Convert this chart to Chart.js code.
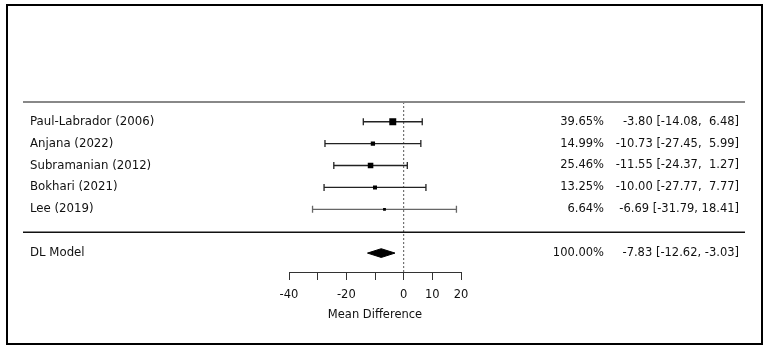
<!DOCTYPE html>
<html>
<head>
<meta charset="utf-8">
<script src="https://cdn.jsdelivr.net/npm/chart.js@4.4.0/dist/chart.umd.min.js"></script>
<style>
  body { margin: 0; background: #fff; }
  canvas { display: block; }
</style>
</head>
<body>
<canvas id="forestChart" width="768" height="350"></canvas>
<script>
// study data
var studies = ['Paul-Labrador (2006)', 'Anjana (2022)', 'Subramanian (2012)', 'Bokhari (2021)', 'Lee (2019)'];
var weights = [39.65, 14.99, 25.46, 13.25, 6.64];
var estimates = [-3.80, -10.73, -11.55, -10.00, -6.69];
var lowers = [-14.08, -27.45, -24.37, -27.77, -31.79];
var uppers = [6.48, 5.99, 1.27, 7.77, 18.41];

// pooled estimate
var modelLabel = 'DL Model';
var modelWeight = 100.00;
var modelEstimate = -7.83;
var modelLower = -12.62;
var modelUpper = -3.03;

var xTicks = [-40, -30, -20, -10, 0, 10, 20];
var xTickLabels = ['-40', '', '-20', '', '0', '10', '20'];

var modelRow = studies.length + 1;
var yMin = -5.318, yMax = 6.864;

function fmt(v, w) {
    return v.toFixed(2).padStart(w, ' ');
}

var datasets = [];

// squares, sized by weight
datasets.push({
    data: estimates.map(function (e, i) { return {x: e, y: i}; }),
    pointStyle: 'rect',
    pointRadius: weights.map(function (w) { return 0.78 * Math.sqrt(w); }),
    backgroundColor: '#000',
    borderColor: '#000',
    borderWidth: 0,
    showLine: false
});

// summary diamond
datasets.push({
    data: [
        {x: modelLower, y: modelRow},
        {x: modelEstimate, y: modelRow - 0.2},
        {x: modelUpper, y: modelRow},
        {x: modelEstimate, y: modelRow + 0.2},
        {x: modelLower, y: modelRow}
    ],
    showLine: true,
    fill: 'shape',
    backgroundColor: '#000',
    borderColor: '#000',
    borderWidth: 1,
    pointRadius: 0,
    tension: 0
});

// confidence intervals
studies.forEach(function (s, i) {
    var col = i === studies.length - 1 ? '#666' : '#222';
    datasets.push({
        data: [{x: lowers[i], y: i}, {x: uppers[i], y: i}],
        showLine: true,
        borderColor: col,
        borderWidth: 1.3,
        pointStyle: 'line',
        rotation: 90,
        pointRadius: 3.5,
        pointBorderWidth: 1.3,
        pointBorderColor: col,
        pointBackgroundColor: col
    });
});

// reference line at zero
datasets.push({
    data: [{x: 0, y: -0.9}, {x: 0, y: yMax}],
    showLine: true,
    borderColor: '#555',
    borderWidth: 1,
    borderDash: [2, 2],
    pointRadius: 0
});

var textPlugin = {
    id: 'forestText',
    beforeDraw: function (chart) {
        var c = chart.ctx;
        c.save();
        c.fillStyle = '#fff';
        c.fillRect(0, 0, chart.width, chart.height);
        c.restore();
    },
    afterDraw: function (chart) {
        var c = chart.ctx;
        var y = chart.scales.y;
        c.save();
        // frame
        c.strokeStyle = '#000';
        c.lineWidth = 2;
        c.strokeRect(7, 5, 755, 339);
        // rules
        c.strokeStyle = '#888';
        c.lineWidth = 2;
        c.beginPath();
        c.moveTo(23, y.getPixelForValue(-0.9));
        c.lineTo(745, y.getPixelForValue(-0.9));
        c.stroke();
        c.strokeStyle = '#111';
        c.lineWidth = 1.5;
        c.beginPath();
        c.moveTo(23, y.getPixelForValue(5.05));
        c.lineTo(745, y.getPixelForValue(5.05));
        c.stroke();
        // text
        c.fillStyle = '#111';
        c.textBaseline = 'middle';
        var rows = studies.map(function (s, i) {
            return [s, weights[i], estimates[i], lowers[i], uppers[i], i];
        });
        rows.push([modelLabel, modelWeight, modelEstimate, modelLower, modelUpper, modelRow]);
        rows.forEach(function (r) {
            var py = y.getPixelForValue(r[5]);
            c.textAlign = 'left';
            c.font = '11.75px "DejaVu Sans"';
            c.fillText(r[0], 30, py);
            c.textAlign = 'right';
            c.font = '11.5px "DejaVu Sans"';
            c.fillText(r[1].toFixed(2) + '%', 604, py);
            c.fillText(r[2].toFixed(2) + ' [' + fmt(r[3], 6) + ', ' + fmt(r[4], 5) + ']', 739, py);
        });
        c.restore();
    }
};

var ctx = document.getElementById('forestChart').getContext('2d');
var forestChart = new Chart(ctx, {
    type: 'scatter',
    data: { datasets: datasets },
    options: {
        responsive: false,
        animation: false,
        layout: {
            padding: { left: 289, right: 307, top: 0, bottom: 0 }
        },
        plugins: {
            legend: { display: false },
            tooltip: { enabled: false }
        },
        scales: {
            x: {
                type: 'linear',
                position: 'bottom',
                min: -40,
                max: 20,
                afterFit: function (scale) { scale.height = 78; },
                afterBuildTicks: function (scale) {
                    scale.ticks = xTicks.map(function (v) { return {value: v}; });
                },
                ticks: {
                    autoSkip: false,
                    maxRotation: 0,
                    padding: 8,
                    color: '#111',
                    font: { family: 'DejaVu Sans', size: 11.5 },
                    callback: function (v) {
                        return xTickLabels[xTicks.indexOf(v)];
                    }
                },
                grid: {
                    drawOnChartArea: false,
                    drawTicks: true,
                    tickLength: 8,
                    color: '#333'
                },
                border: { display: true, color: '#333', width: 1 },
                title: {
                    display: true,
                    text: 'Mean Difference',
                    color: '#111',
                    font: { family: 'DejaVu Sans', size: 11.5 },
                    padding: { top: 4, bottom: 28 }
                }
            },
            y: {
                type: 'linear',
                display: false,
                reverse: true,
                min: yMin,
                max: yMax
            }
        }
    },
    plugins: [textPlugin]
});
</script>
</body>
</html>
